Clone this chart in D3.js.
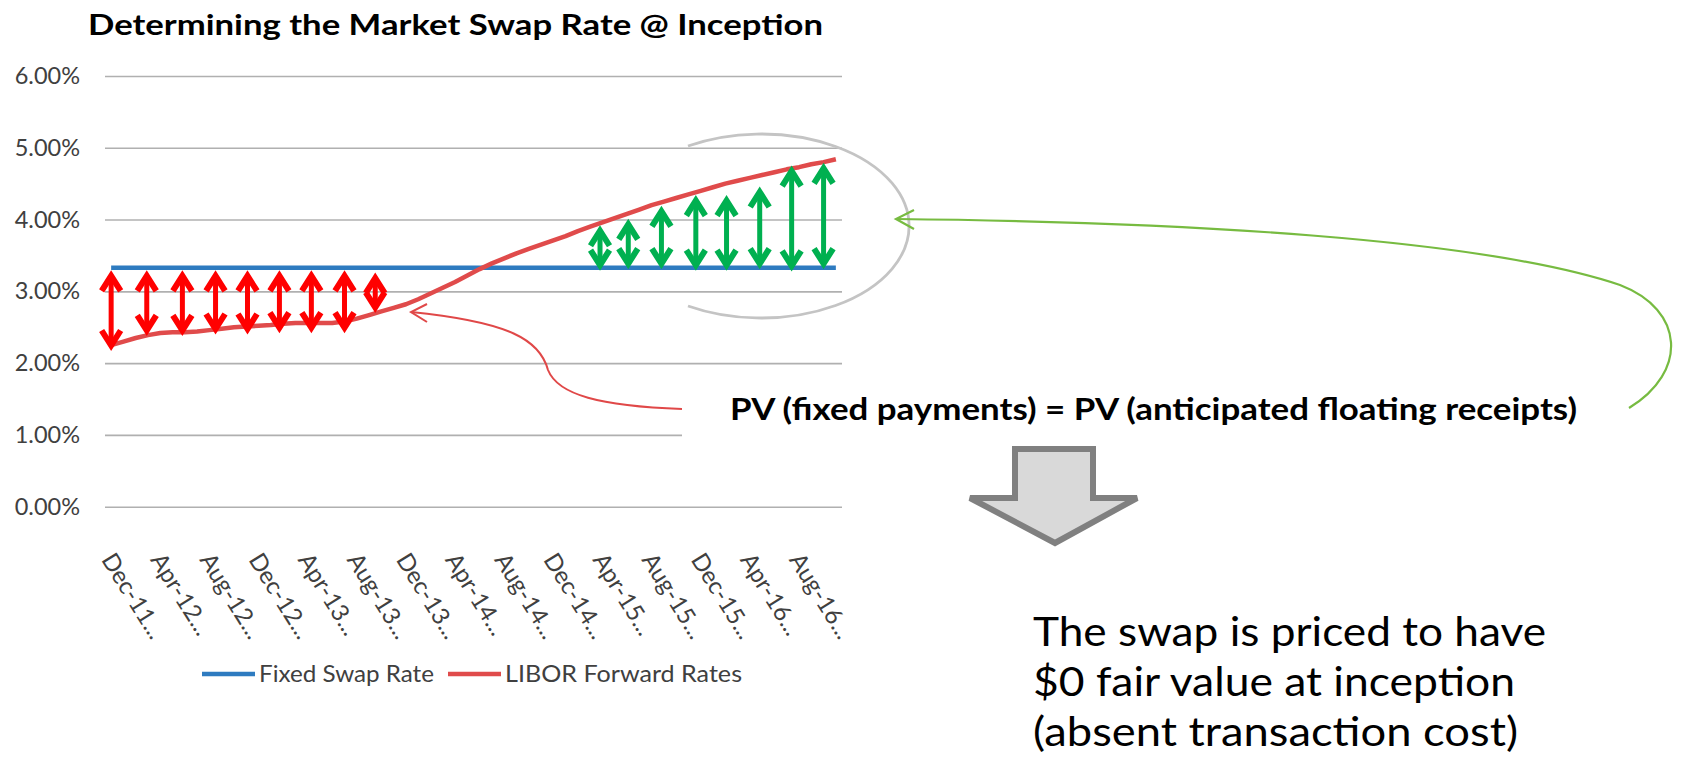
<!DOCTYPE html>
<html><head><meta charset="utf-8">
<script src="https://cdn.jsdelivr.net/npm/d3@7"></script>
<style>body{margin:0;background:#fff;} svg{display:block;}</style>
</head><body>
<svg id="c" width="1682" height="765"></svg>
<script>
// ---------- data ----------
const tickLabels = ["Dec-11...","Apr-12...","Aug-12...","Dec-12...","Apr-13...","Aug-13...","Dec-13...","Apr-14...","Aug-14...","Dec-14...","Apr-15...","Aug-15...","Dec-15...","Apr-16...","Aug-16..."];
const tickMonthIndex = [0,4,8,12,16,20,24,28,32,36,40,44,48,52,56];
const yTicks = [0,1,2,3,4,5,6];
const seriesNames = ["Fixed Swap Rate","LIBOR Forward Rates"];
const fixedSwapRate = [3.33,3.33,3.33,3.33,3.33,3.33,3.33,3.33,3.33,3.33,3.33,3.33,3.33,3.33,3.33,3.33,3.33,3.33,3.33,3.33,
  3.33,3.33,3.33,3.33,3.33,3.33,3.33,3.33,3.33,3.33,3.33,3.33,3.33,3.33,3.33,3.33,3.33,3.33,3.33,3.33,
  3.33,3.33,3.33,3.33,3.33,3.33,3.33,3.33,3.33,3.33,3.33,3.33,3.33,3.33,3.33,3.33,3.33,3.33,3.33,3.33];
const liborForward = [2.25,2.30,2.35,2.39,2.42,2.43,2.43,2.44,2.46,2.48,2.50,2.51,2.52,2.53,2.55,2.56,2.56,2.56,2.56,2.58,
  2.62,2.67,2.72,2.77,2.82,2.89,2.97,3.05,3.13,3.22,3.31,3.39,3.46,3.53,3.59,3.65,3.71,3.77,3.84,3.90,
  3.96,4.02,4.08,4.14,4.20,4.25,4.30,4.35,4.40,4.45,4.50,4.54,4.58,4.62,4.66,4.70,4.73,4.77,4.80,4.84];
// annotation arrows (month index, top %, bottom %)
const redArrowX = [0, 2.9, 5.8, 8.5, 11.1, 13.7, 16.3, 19.0, 21.5];
const redArrowTop = [3.27, 3.27, 3.27, 3.27, 3.27, 3.27, 3.27, 3.27, 3.24];
const redArrowBottom = [2.19, 2.40, 2.40, 2.42, 2.42, 2.44, 2.44, 2.44, 2.72];
const greenArrowX = [39.8, 42.1, 44.8, 47.6, 50.1, 52.8, 55.4, 58.0];
const greenArrowTop = [3.90, 3.99, 4.17, 4.32, 4.32, 4.44, 4.73, 4.77];
const greenArrowBottom = [3.31, 3.33, 3.33, 3.31, 3.31, 3.33, 3.30, 3.33];

// ---------- layout ----------
const svg = d3.select("#c");
const FONT = "Lato, 'Liberation Sans', sans-serif";
const plot = {left:105, right:842, top:76, bottom:506.7};
const x = d3.scaleLinear().domain([-0.5, 59.5]).range([plot.left, plot.right]);
const y = d3.scaleLinear().domain([0, 6]).range([plot.bottom, plot.top]);
const C_BLUE = "#2e7bc0", C_RED = "#e04b4b", C_RARR = "#ff0000", C_GARR = "#00b050";

// title
svg.append("text").attr("x", 88).attr("y", 35)
  .attr("font-family", FONT).attr("font-weight", "bold").attr("font-size", 29)
  .attr("textLength", 735).attr("lengthAdjust", "spacingAndGlyphs")
  .text("Determining the Market Swap Rate @ Inception");

// gridlines + y labels
const yAxis = d3.axisLeft(y).tickValues(yTicks).tickSize(-(plot.right - plot.left))
  .tickPadding(25).tickFormat(d => d3.format(".2f")(d) + "%");
const gy = svg.append("g").attr("transform", `translate(${plot.left},0)`).call(yAxis);
gy.select(".domain").remove();
gy.selectAll(".tick line").attr("stroke", "#b0b0b0").attr("stroke-width", 1.6);
gy.selectAll(".tick text").attr("font-family", FONT).attr("font-size", 23.5).attr("fill", "#404040");

// x labels
const xAxis = d3.axisBottom(x).tickValues(tickMonthIndex).tickSize(0)
  .tickFormat((d, i) => tickLabels[i]);
const gx = svg.append("g").attr("transform", `translate(0,${plot.bottom})`).call(xAxis);
gx.select(".domain").remove();
gx.selectAll(".tick text")
  .attr("font-family", FONT).attr("font-size", 24).attr("fill", "#404040")
  .attr("text-anchor", "start").attr("dy", null).attr("y", 0)
  .attr("transform", "translate(-11,53) rotate(58)");

// white box behind PV text (covers part of gridlines)
svg.append("rect").attr("x", 682).attr("y", 378).attr("width", 920).attr("height", 72).attr("fill", "#fff");

// series lines
const line = d3.line().x((d, i) => x(i)).y(d => y(d)).curve(d3.curveLinear);
svg.append("path").datum(fixedSwapRate).attr("d", line).attr("fill", "none")
  .attr("stroke", C_BLUE).attr("stroke-width", 4.5);
svg.append("path").datum(liborForward).attr("d", line).attr("fill", "none")
  .attr("stroke", C_RED).attr("stroke-width", 4.5).attr("stroke-linejoin", "round");

// double arrows
function dblArrows(xs, tops, bots, color) {
  const g = svg.append("g").attr("stroke", color).attr("fill", "none");
  xs.forEach((xi, i) => {
    const px = x(xi), yt = y(tops[i]) + 4, yb = y(bots[i]) - 4;
    g.append("line").attr("x1", px).attr("x2", px).attr("y1", yt + 2).attr("y2", yb - 2)
      .attr("stroke-width", 5);
    g.append("path").attr("d", `M${px - 9.5},${yt + 15} L${px},${yt} L${px + 9.5},${yt + 15}`)
      .attr("stroke-width", 6).attr("stroke-linejoin", "miter");
    g.append("path").attr("d", `M${px - 9.5},${yb - 15} L${px},${yb} L${px + 9.5},${yb - 15}`)
      .attr("stroke-width", 6).attr("stroke-linejoin", "miter");
  });
}
dblArrows(redArrowX, redArrowTop, redArrowBottom, C_RARR);
dblArrows(greenArrowX, greenArrowTop, greenArrowBottom, C_GARR);

// gray oval
svg.append("path").attr("d", "M688,146 A148 92 0 1 1 688,306")
  .attr("fill", "none").attr("stroke", "#c4c4c4").attr("stroke-width", 2.8);

// red callout curve
svg.append("path").attr("d", "M682,409 C600,406 558,395 548,370 C540,340 510,322 411,312")
  .attr("fill", "none").attr("stroke", "#e04848").attr("stroke-width", 2);
svg.append("path").attr("d", "M427,304 L411,312 L427,322")
  .attr("fill", "none").attr("stroke", "#e04848").attr("stroke-width", 2);

// green callout curve
svg.append("path").attr("d", "M896,219 C1180,222 1480,238 1620,285 C1685,310 1688,372 1629,408")
  .attr("fill", "none").attr("stroke", "#77bb41").attr("stroke-width", 2.2);
svg.append("path").attr("d", "M914,210 L896,219 L914,229")
  .attr("fill", "none").attr("stroke", "#77bb41").attr("stroke-width", 2.2);

// PV text
svg.append("text").attr("x", 730).attr("y", 420)
  .attr("font-family", FONT).attr("font-weight", "bold").attr("font-size", 30)
  .attr("textLength", 847).attr("lengthAdjust", "spacingAndGlyphs")
  .text("PV (fixed payments) = PV (anticipated floating receipts)");

// gray block arrow
svg.append("path").attr("d", "M1015,449 L1093,449 L1093,498 L1137,498 L1055,543 L970,498 L1015,498 Z")
  .attr("fill", "#d9d9d9").attr("stroke", "#808080").attr("stroke-width", 6).attr("stroke-linejoin", "miter");

// conclusion text
const concl = ["The swap is priced to have", "$0 fair value at inception", "(absent transaction cost)"];
const conclW = [513, 482, 485];
concl.forEach((t, i) => {
  svg.append("text").attr("x", 1033).attr("y", 646 + i * 50)
    .attr("font-family", FONT).attr("font-size", 40)
    .attr("textLength", conclW[i]).attr("lengthAdjust", "spacingAndGlyphs").text(t);
});

// legend
const legend = [{x: 202, c: C_BLUE, tx: 259, w: 175}, {x: 448, c: C_RED, tx: 505, w: 237}];
legend.forEach((l, i) => {
  svg.append("line").attr("x1", l.x).attr("x2", l.x + 53).attr("y1", 674).attr("y2", 674)
    .attr("stroke", l.c).attr("stroke-width", 4.5);
  svg.append("text").attr("x", l.tx).attr("y", 682).attr("font-family", FONT).attr("font-size", 23)
    .attr("fill", "#404040").attr("textLength", l.w).attr("lengthAdjust", "spacingAndGlyphs")
    .text(seriesNames[i]);
});
</script>
</body></html>
